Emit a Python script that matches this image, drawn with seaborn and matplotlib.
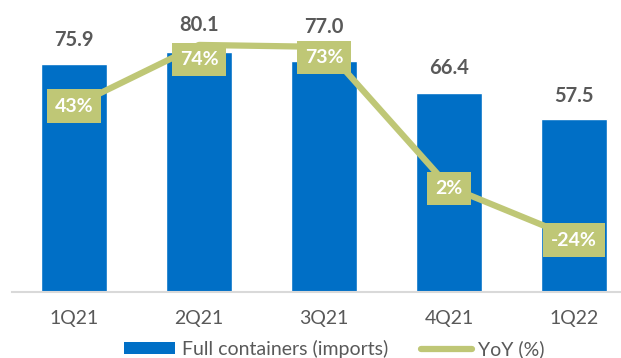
import matplotlib
matplotlib.use("Agg")
import matplotlib.pyplot as plt
import seaborn as sns
import pandas as pd
from matplotlib.patches import Patch
from matplotlib.lines import Line2D

quarters = ["1Q21", "2Q21", "3Q21", "4Q21", "1Q22"]
containers = [75.9, 80.1, 77.0, 66.4, 57.5]
yoy = [43, 74, 73, 2, -24]
series_names = ["Full containers (imports)", "YoY (%)"]

BLUE = "#006FC6"
OLIVE = "#BFC776"
GRAY = "#595959"

sns.set_style("white")
plt.rcParams["font.family"] = ["Lato", "DejaVu Sans"]

df = pd.DataFrame({"q": quarters, "v": containers, "y": yoy})

W, H = 621, 358
fig = plt.figure(figsize=(W / 100, H / 100), dpi=100)
ax = fig.add_axes([11.5 / W, 66 / H, (W - 11.5) / W, 292 / H])

sns.barplot(data=df, x="q", y="v", color=BLUE, width=0.528, saturation=1,
            ax=ax, zorder=2)
ax.set_xlim(-0.5, 4.376)
ax.set_ylim(0, 97.3)

# value labels above bars (pixel offset of label centre above bar top)
value_dy = [24, 27, 34, 24.5, 23]
for i, v in enumerate(containers):
    ax.annotate(f"{v:.1f}", (i, v), xytext=(0, value_dy[i]),
                textcoords="offset pixels", ha="center", va="center",
                fontsize=14.5, fontweight="bold", color=GRAY)

ax.set_xlabel("")
ax.set_ylabel("")
ax.set_yticks([])
for s in ["top", "left", "right"]:
    ax.spines[s].set_visible(False)
ax.spines["bottom"].set_color("#D9D9D9")
ax.spines["bottom"].set_linewidth(1.5)
ax.tick_params(axis="x", length=0, pad=13, labelsize=14, labelcolor=GRAY)

ax2 = ax.twinx()
sns.lineplot(data=df, x="q", y="y", color=OLIVE, linewidth=4.5, ax=ax2,
             sort=False)
ax2.set_ylim(-51.4, 96.8)
ax2.set_yticks([])
ax2.set_ylabel("")
for s in ax2.spines.values():
    s.set_visible(False)

label_dy = [0, -14.5, -10.5, -1.5, -2]
for i, v in enumerate(yoy):
    ax2.annotate(f"{v}%", (i, v), xytext=(0, label_dy[i]),
                 textcoords="offset pixels", ha="center", va="center",
                 fontsize=14, fontweight="bold", color="white",
                 bbox=dict(boxstyle="square,pad=0.42", fc=OLIVE, ec="none"))

handles = [Patch(facecolor=BLUE, edgecolor="none"),
           Line2D([0], [0], color=OLIVE, linewidth=4.5, solid_capstyle="round")]
fig.legend(handles, series_names, loc="center", bbox_to_anchor=(0.539, 9 / H),
           ncol=2, frameon=False, fontsize=14, labelcolor=GRAY,
           handlelength=2.6, handleheight=0.6, columnspacing=1.7,
           handletextpad=0.35)

fig.savefig("out.png", dpi=100)
